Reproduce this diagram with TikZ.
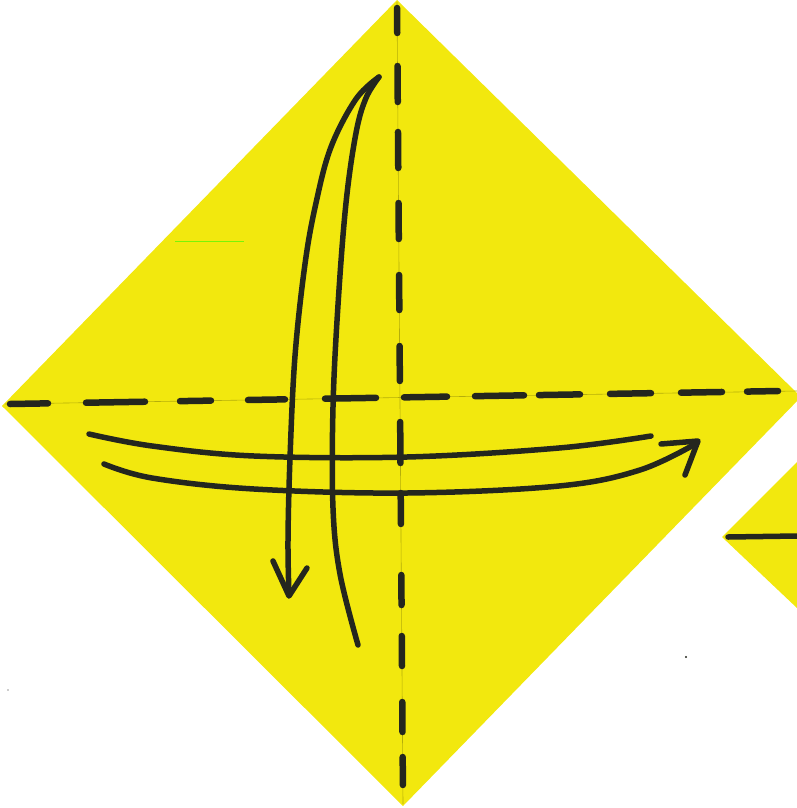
\documentclass[tikz,border=0pt]{standalone}
\usetikzlibrary{calc}
\definecolor{paper}{RGB}{242,232,14}
\definecolor{ink}{RGB}{36,38,30}
\tikzset{
  sheet/.style={fill=paper,draw=none},
  crease/.style={draw=ink,line width=6.5pt,line cap=round},
  thincrease/.style={draw=black!25!paper,line width=0.6pt},
  foldarrow/.style={draw=ink,line width=5.5pt,line cap=round,line join=round},
}
\begin{document}
\begin{tikzpicture}[x=1pt,y=-1pt]
\useasboundingbox (0,0) rectangle (797,808);
% main sheet
\coordinate (T) at (397,0);
\coordinate (L) at (2,406);
\coordinate (R) at (801,397);
\coordinate (B) at (403,806);
\fill[sheet] (T) -- (R) -- (B) -- (L) -- cycle;
% partial second sheet
\coordinate (L2) at (722,537);
\fill[sheet] (L2) -- (797,462) -- (797,608) -- cycle;
\draw[crease,line width=5.5pt] (728,537) -- (797,536);
% faint crease lines
\draw[thincrease] (397,2) -- (403,804);
\draw[thincrease] (5,404) -- (797,391);
% vertical dashes
\foreach \a/\b in {8/33,66/102,132/168,203/239,275/310,346/381,422/463,493/524,575/605,636/666,702/732,757/785}{
  \draw[crease] ({397+6*\a/800},\a) -- ({397+6*\b/800},\b);
}
% horizontal dashes
\foreach \a/\b in {10/48,86/145,180/211,248/285,325/376,404/447,475/524,539/580,610/651,681/722,747/778}{
  \draw[crease] (\a,{404-13*(\a-10)/770}) -- (\b,{404-13*(\b-10)/770});
}
% vertical fold arrow (top corner down)
\draw[foldarrow] plot[smooth,tension=0.6] coordinates {(379,77) (356,99) (331,147) (316,203) (305,264) (295,356) (290,458) (288,540) (289,595)};
\draw[foldarrow] plot[smooth,tension=0.6] coordinates {(379,77) (366,98) (356,133) (346,203) (338,305) (333,407) (333,508) (340,574) (358,645)};
\draw[foldarrow] (273,561) -- (289,596) -- (307,568);
% horizontal fold arrow (left corner to right)
\draw[foldarrow] plot[smooth,tension=0.6] coordinates {(89,434) (152,446) (254,456) (407,457) (559,448) (651,436)};
\draw[foldarrow] plot[smooth,tension=0.6] coordinates {(104,464) (152,478) (254,489) (407,493) (559,486) (640,470) (697,443)};
\draw[foldarrow] (661,444) -- (698,441) -- (685,475);
% specks
\draw[green!50!paper,line width=0.8pt] (175,241) -- (244,241);
\fill[ink] (686,657) circle (1.2pt);
\fill[black!40] (8,690) circle (0.8pt);
\end{tikzpicture}
\end{document}
